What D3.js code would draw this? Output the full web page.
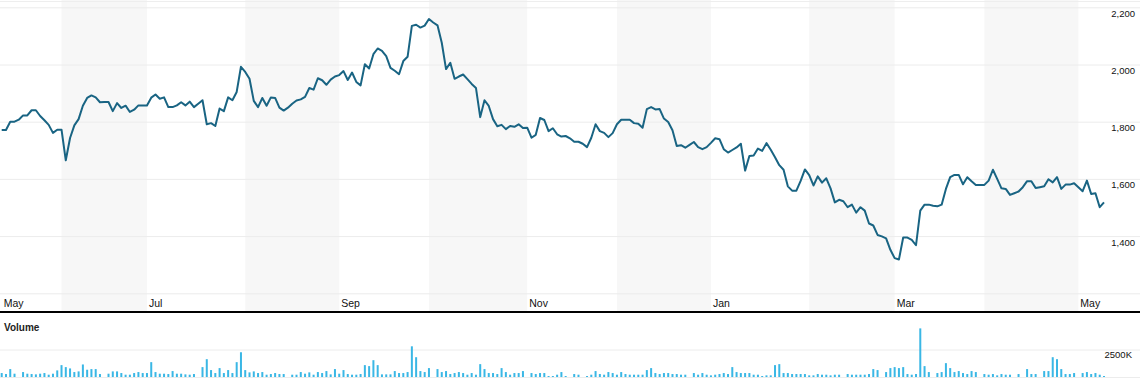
<!DOCTYPE html>
<html>
<head>
<meta charset="utf-8">
<script src="https://cdn.jsdelivr.net/npm/d3@7"></script>
<style>
  body { margin: 0; background: #fff; }
  svg { display: block; font-family: "Liberation Sans", Arial, sans-serif; }
</style>
</head>
<body>
<div class="chart"></div>
<script>
const monthLabels = ["May", "Jun", "Jul", "Aug", "Sep", "Oct", "Nov", "Dec", "Jan", "Feb", "Mar", "Apr", "May"];
// index of the first trading day of each month
const monthStart = [0, 14, 34, 57, 79, 100, 123, 144, 166, 189, 209, 230, 252];
const priceTicks = [1400, 1600, 1800, 2000, 2200];
const volumeTicks = [2500];

const closePrices = [
  1771, 1771, 1800, 1800, 1807, 1822, 1822, 1840, 1840, 1820,
  1805, 1789, 1761, 1772, 1772, 1665, 1743, 1787, 1809, 1856,
  1883, 1892, 1885, 1868, 1869, 1869, 1837, 1865, 1848, 1856,
  1834, 1842, 1857, 1857, 1857, 1884, 1895, 1880, 1885, 1851,
  1851, 1857, 1868, 1857, 1870, 1851, 1863, 1875, 1791, 1795,
  1785, 1846, 1837, 1885, 1875, 1904, 1992, 1974, 1950, 1873,
  1851, 1883, 1856, 1885, 1883, 1849, 1839, 1849, 1863, 1874,
  1878, 1887, 1918, 1912, 1952, 1945, 1929, 1947, 1958, 1963,
  1977, 1946, 1972, 1939, 1927, 2001, 1986, 2036, 2056, 2048,
  2029, 1988, 1978, 1966, 2012, 2027, 2135, 2139, 2129, 2136,
  2159, 2147, 2137, 2076, 1984, 2006, 1950, 1958, 1965, 1949,
  1932, 1918, 1816, 1875, 1855, 1809, 1784, 1789, 1774, 1785,
  1782, 1791, 1778, 1779, 1744, 1754, 1813, 1806, 1767, 1777,
  1756, 1748, 1750, 1742, 1730, 1730, 1723, 1711, 1744, 1791,
  1767, 1761, 1746, 1760, 1791, 1807, 1807, 1807, 1795, 1793,
  1779, 1844, 1851, 1843, 1844, 1811, 1799, 1770, 1715, 1718,
  1709, 1719, 1729, 1711, 1704, 1711, 1726, 1742, 1739, 1704,
  1692, 1701, 1710, 1723, 1629, 1680, 1682, 1706, 1698, 1725,
  1702, 1676, 1648, 1632, 1574, 1559, 1559, 1593, 1633, 1613,
  1577, 1609, 1587, 1602, 1567, 1518, 1527, 1522, 1501, 1510,
  1482, 1501, 1489, 1444, 1437, 1404, 1399, 1392, 1352, 1323,
  1318, 1395, 1395, 1387, 1368, 1489, 1510, 1510, 1506, 1504,
  1510, 1565, 1606, 1614, 1614, 1581, 1606, 1592, 1579, 1579,
  1579, 1594, 1632, 1600, 1567, 1565, 1544, 1550, 1556, 1571,
  1592, 1592, 1568, 1571, 1574, 1599, 1588, 1606, 1565, 1580,
  1580, 1585, 1571, 1557, 1594, 1547, 1550, 1501, 1518
];

// volume in thousands
const volumes = [
  360, 270, 720, 300, 0, 450, 300, 270, 240, 300,
  360, 210, 300, 600, 1080, 900, 780, 450, 510, 1140,
  660, 720, 720, 270, 0, 300, 510, 510, 360, 210,
  210, 360, 450, 360, 360, 1350, 450, 300, 300, 270,
  540, 300, 300, 240, 210, 270, 0, 900, 1620, 630,
  360, 810, 360, 630, 360, 1350, 2250, 630, 420, 510,
  360, 450, 210, 270, 360, 270, 270, 0, 210, 210,
  450, 300, 420, 210, 450, 360, 540, 240, 720, 300,
  630, 270, 210, 210, 270, 1080, 990, 1530, 1080, 240,
  240, 240, 540, 360, 360, 450, 2790, 1800, 540, 450,
  810, 0, 720, 450, 540, 270, 360, 450, 360, 210,
  360, 210, 1170, 720, 360, 360, 270, 810, 450, 210,
  360, 360, 540, 0, 360, 270, 360, 360, 90, 90,
  210, 450, 90, 0, 270, 210, 0, 90, 210, 540,
  270, 210, 450, 360, 210, 450, 270, 210, 210, 210,
  210, 630, 810, 360, 270, 360, 360, 270, 270, 210,
  210, 0, 360, 210, 360, 210, 150, 210, 270, 360,
  270, 900, 450, 360, 360, 360, 210, 210, 90, 150,
  150, 1080, 1170, 360, 360, 270, 270, 270, 270, 150,
  150, 270, 210, 210, 150, 210, 210, 0, 270, 210,
  210, 210, 210, 270, 720, 630, 0, 450, 810, 900,
  810, 900, 270, 210, 270, 4420, 990, 450, 0, 360,
  450, 1260, 810, 450, 540, 360, 270, 540, 450, 0,
  270, 210, 270, 150, 270, 210, 210, 0, 270, 0,
  720, 270, 270, 0, 540, 540, 1800, 1620, 720, 270,
  270, 360, 0, 360, 450, 270, 360, 210, 90
];

const width = 1140;
const height = 392;
const axisY = 311;
const volBase = 377;

const svg = d3
  .select(".chart")
  .append("svg")
  .attr("width", width)
  .attr("height", height);

const x = d3
  .scaleLinear()
  .domain([0, closePrices.length - 1])
  .range([1.7, 1104]);
const y = d3.scaleLinear().domain([1200, 2200]).range([293.3, 7.3]);
const yVol = d3.scaleLinear().domain([0, 2500]).range([volBase, 349.5]);

// month bands
const bands = monthStart.map((s, i) => ({
  label: monthLabels[i],
  x0: x(s),
  x1: i < monthStart.length - 1 ? x(monthStart[i + 1]) : width,
  shaded: i % 2 === 1
}));

svg
  .selectAll("rect.band")
  .data(bands.filter(b => b.shaded))
  .enter()
  .append("rect")
  .attr("class", "band")
  .attr("x", d => d.x0)
  .attr("y", 0)
  .attr("width", d => d.x1 - d.x0)
  .attr("height", axisY)
  .attr("fill", "#f7f7f7");

// top border
svg
  .append("line")
  .attr("x1", 0)
  .attr("x2", width)
  .attr("y1", 1.5)
  .attr("y2", 1.5)
  .attr("stroke", "#eeeeee");

// price gridlines
const grid = svg
  .append("g")
  .attr("transform", `translate(${width},0)`)
  .call(d3.axisLeft(y).tickValues([1200].concat(priceTicks)).tickSize(width).tickFormat(""));
grid.select(".domain").remove();
grid.selectAll("line").attr("stroke", "#ececec");

svg
  .selectAll("text.price")
  .data(priceTicks)
  .enter()
  .append("text")
  .attr("class", "price")
  .attr("x", 1135)
  .attr("y", d => y(d) + 9.5)
  .attr("text-anchor", "end")
  .attr("font-size", "9.5px")
  .attr("fill", "#111")
  .text(d3.format(","));

// month labels
svg
  .selectAll("text.month")
  .data(bands.filter(b => !b.shaded))
  .enter()
  .append("text")
  .attr("class", "month")
  .attr("x", d => d.x0 + 2)
  .attr("y", 307)
  .attr("font-size", "10.5px")
  .attr("fill", "#111")
  .text(d => d.label);

// price line
const line = d3
  .line()
  .x((d, i) => x(i))
  .y(d => y(d));

svg
  .append("path")
  .datum(closePrices)
  .attr("d", line)
  .attr("fill", "none")
  .attr("stroke", "#196483")
  .attr("stroke-width", 2)
  .attr("stroke-linejoin", "round");

// axis bar
svg
  .append("rect")
  .attr("x", 0)
  .attr("y", axisY)
  .attr("width", width)
  .attr("height", 2)
  .attr("fill", "#000");

// volume panel
svg
  .append("text")
  .attr("x", 4)
  .attr("y", 331)
  .attr("font-size", "10px")
  .attr("font-weight", "bold")
  .attr("fill", "#222")
  .text("Volume");

const volGrid = svg
  .append("g")
  .attr("transform", `translate(${width},0)`)
  .call(d3.axisLeft(yVol).tickValues([0].concat(volumeTicks)).tickSize(width).tickFormat(""));
volGrid.select(".domain").remove();
volGrid.selectAll("line").attr("stroke", "#ececec");

svg
  .selectAll("text.vol")
  .data(volumeTicks)
  .enter()
  .append("text")
  .attr("class", "vol")
  .attr("x", 1132)
  .attr("y", d => yVol(d) + 8.5)
  .attr("text-anchor", "end")
  .attr("font-size", "9.5px")
  .attr("fill", "#111")
  .text(d => d + "K");

svg
  .selectAll("rect.vbar")
  .data(volumes)
  .enter()
  .append("rect")
  .attr("class", "vbar")
  .attr("x", (d, i) => x(i) - 1)
  .attr("y", d => yVol(d))
  .attr("width", 2)
  .attr("height", d => volBase - yVol(d))
  .attr("fill", "#3ab7e5");
</script>
</body>
</html>
